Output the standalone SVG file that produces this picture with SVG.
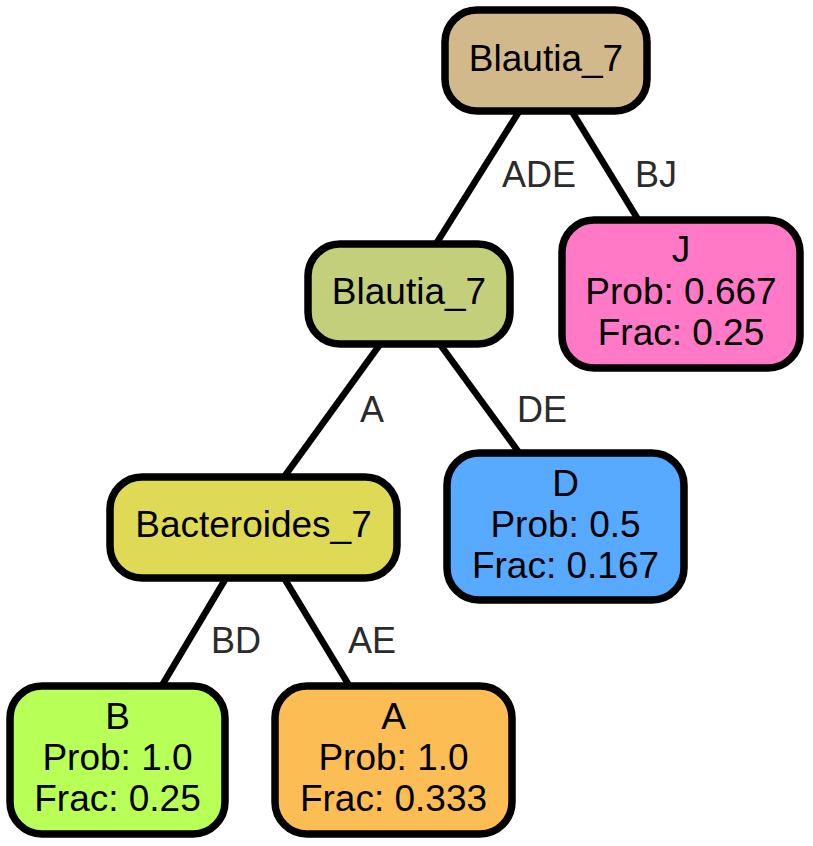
<svg xmlns="http://www.w3.org/2000/svg" width="813" height="846" viewBox="0 0 813 846">
<style>
.node rect{stroke:#000;stroke-width:7.5}
.node text{font-family:"Liberation Sans",Arial,sans-serif;font-size:37px;fill:#000;text-anchor:middle}
.edges line{stroke:#000;stroke-width:6.5}
.edges text{font-family:"Liberation Sans",Arial,sans-serif;font-size:36px;fill:#2b2b2b}
</style>
<rect width="813" height="846" fill="#fff"/>
<g id="connectors" class="edges">
<line x1="520" y1="110" x2="436" y2="244"/>
<line x1="571" y1="110" x2="639" y2="221"/>
<line x1="381" y1="343" x2="284" y2="477"/>
<line x1="439" y1="343" x2="520" y2="454"/>
<line x1="229" y1="573" x2="161" y2="687"/>
<line x1="281" y1="573" x2="350" y2="687"/>
<text x="502" y="187">ADE</text>
<text x="635" y="187">BJ</text>
<text x="360" y="422">A</text>
<text x="517" y="422">DE</text>
<text x="211" y="653">BD</text>
<text x="348" y="653">AE</text>
</g>
<g id="n0" class="node"><rect x="445" y="10" width="202" height="101" rx="32" fill="#d2b98c"/><text x="546" y="71">Blautia_7</text></g>
<g id="n1" class="node"><rect x="308" y="244" width="202" height="100" rx="32" fill="#c3cf7a"/><text x="409" y="304">Blautia_7</text></g>
<g id="n2" class="node"><rect x="110" y="477" width="287" height="101" rx="32" fill="#dfda56"/><text x="253.5" y="537">Bacteroides_7</text></g>
<g id="n3" class="node"><rect x="562" y="220" width="238" height="148" rx="32" fill="#ff79c6"/><text x="681" y="262">J</text><text x="681" y="304">Prob: 0.667</text><text x="681" y="345">Frac: 0.25</text></g>
<g id="n4" class="node"><rect x="447" y="453" width="237" height="147" rx="32" fill="#57aaff"/><text x="565.5" y="496">D</text><text x="565.5" y="537">Prob: 0.5</text><text x="565.5" y="578">Frac: 0.167</text></g>
<g id="n5" class="node"><rect x="10" y="686" width="215" height="148" rx="32" fill="#b8ff57"/><text x="117.5" y="729">B</text><text x="117.5" y="770">Prob: 1.0</text><text x="117.5" y="811">Frac: 0.25</text></g>
<g id="n6" class="node"><rect x="275" y="686" width="237" height="148" rx="32" fill="#fdbd55"/><text x="393.5" y="729">A</text><text x="393.5" y="770">Prob: 1.0</text><text x="393.5" y="811">Frac: 0.333</text></g>
</svg>
